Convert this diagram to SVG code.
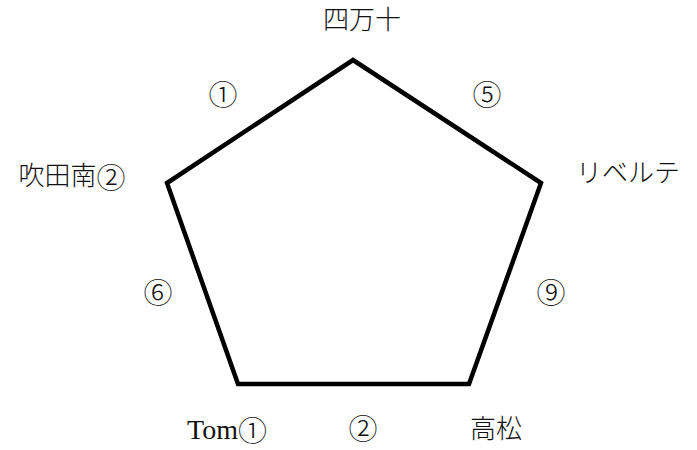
<svg xmlns="http://www.w3.org/2000/svg" width="697" height="450" viewBox="0 0 697 450">
<style>
.t{font-family:"Liberation Serif","Noto Sans CJK JP",serif;font-size:26px;fill:#111;text-anchor:middle;dominant-baseline:central;font-weight:300}
.c{font-family:"Noto Sans CJK JP",sans-serif;font-size:29px;fill:#111;text-anchor:middle;dominant-baseline:central;font-weight:300}
.l{font-size:28px}
.e{fill:none;stroke:#000;stroke-width:4.5;stroke-linejoin:miter}
</style>
<rect width="697" height="450" fill="#fff"/>
<g id="connectors">
<polygon class="e" points="353,60 541,183 469,384 238,384 167,183"/>
</g>
<g id="shimanto"><text class="t" x="362" y="20">四万十</text></g>
<g id="suitaminami"><text class="t" x="72" y="176">吹田南<tspan class="c">②</tspan></text></g>
<g id="liberte"><text class="t" x="628" y="173">リベルテ</text></g>
<g id="tom"><text class="t" x="227" y="429"><tspan class="l">Tom</tspan><tspan class="c">①</tspan></text></g>
<g id="takamatsu"><text class="t" x="496" y="429">高松</text></g>
<g id="edge-labels">
<text class="c" x="223" y="93">①</text>
<text class="c" x="487" y="93">⑤</text>
<text class="c" x="158" y="291">⑥</text>
<text class="c" x="551" y="291">⑨</text>
<text class="c" x="363" y="427">②</text>
</g>
</svg>
